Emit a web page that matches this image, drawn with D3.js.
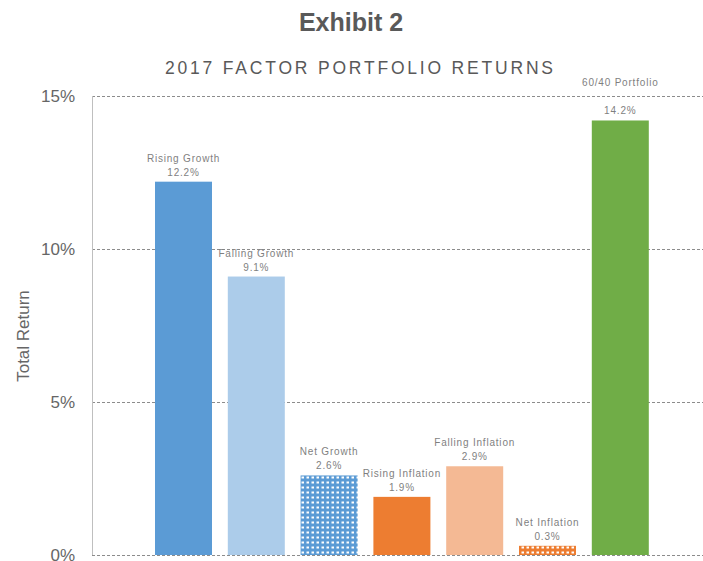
<!DOCTYPE html>
<html><head><meta charset="utf-8">
<script src="https://cdn.jsdelivr.net/npm/d3@7"></script>
<style>
body{margin:0;background:#fff;}
text{font-family:"Liberation Sans",Arial,sans-serif;}
</style></head>
<body><svg id="c" width="703" height="561"></svg>
<script>
const categories = ["Rising Growth","Falling Growth","Net Growth","Rising Inflation","Falling Inflation","Net Inflation","60/40 Portfolio"];
const values = [12.2, 9.1, 2.6, 1.9, 2.9, 0.3, 14.2];
const valueLabels = ["12.2%","9.1%","2.6%","1.9%","2.9%","0.3%","14.2%"];
const fills = ["#5b9bd5","#acccea","url(#patBlue)","#ed7d31","#f4b994","url(#patOrange)","#70ad47"];
const yTicks = [0, 5, 10, 15];
const yTickLabels = ["0%","5%","10%","15%"];

const svg = d3.select("#c");
const defs = svg.append("defs");
function pat(id, col){
  const p = defs.append("pattern").attr("id",id).attr("patternUnits","userSpaceOnUse")
    .attr("width",5).attr("height",5);
  p.append("rect").attr("width",5).attr("height",5).attr("fill",col);
  p.append("rect").attr("x",1.5).attr("y",1.5).attr("width",2.5).attr("height",2).attr("fill","#fff");
}
pat("patBlue","#5b9bd5");
pat("patOrange","#ed7d31");

const plotL = 92, plotR = 703;
const y = d3.scaleLinear().domain([0,15]).range([555,96]);
const x = d3.scaleBand().domain(categories).range([147.1,656.7]).paddingInner(0.217).paddingOuter(0.1085);

// title
svg.append("text").attr("x",351).attr("y",31).attr("text-anchor","middle")
  .attr("font-size",25).attr("font-weight","bold").attr("fill","#595959").text("Exhibit 2");
svg.append("text").attr("x",359).attr("y",74).attr("text-anchor","middle")
  .attr("font-size",17.5).attr("fill","#595959").attr("textLength",388).text("2017 FACTOR PORTFOLIO RETURNS");

// grid
const grid = svg.append("g");
grid.selectAll("line").data(yTicks).join("line")
  .attr("x1",plotL).attr("x2",plotR).attr("y1",d=>y(d)+0.5).attr("y2",d=>y(d)+0.5)
  .attr("stroke","#8c8c8c").attr("stroke-width",1).attr("stroke-dasharray","3,2");
svg.append("line").attr("x1",plotL+0.5).attr("x2",plotL+0.5).attr("y1",y(15)).attr("y2",y(0))
  .attr("stroke","#bfbfbf").attr("stroke-width",1);

// y tick labels
const yAxis = d3.axisLeft(y).tickValues(yTicks).tickFormat((d,i)=>yTickLabels[i]).tickSize(0).tickPadding(17);
const ga = svg.append("g").attr("transform",`translate(${plotL},0)`).call(yAxis);
ga.select(".domain").remove();
ga.selectAll("text").attr("font-size",17).attr("fill","#666").attr("font-family","'Liberation Sans',Arial,sans-serif");

svg.append("text").attr("transform","translate(29,336) rotate(-90)").attr("text-anchor","middle")
  .attr("font-size",17).attr("fill","#666").text("Total Return");

// bars
svg.append("g").selectAll("rect").data(values).join("rect")
  .attr("x",(d,i)=>x(categories[i])).attr("width",x.bandwidth())
  .attr("y",d=>y(d)).attr("height",d=>y(0)-y(d))
  .attr("fill",(d,i)=>fills[i]);

// labels
const lab = svg.append("g");
values.forEach((v,i)=>{
  const cx = x(categories[i]) + x.bandwidth()/2;
  const top = y(v);
  let nameY = top - 20, valY = top - 6;
  if (nameY - 8 < y(15)) { nameY = y(15) - 10; }
  lab.append("text").attr("x",cx).attr("y",nameY).attr("text-anchor","middle")
    .attr("font-size",10).attr("letter-spacing",0.8).attr("fill","#7f7f7f").text(categories[i]);
  lab.append("text").attr("x",cx).attr("y",valY).attr("text-anchor","middle")
    .attr("font-size",10).attr("letter-spacing",0.8).attr("fill","#7f7f7f").text(valueLabels[i]);
});
</script></body></html>
